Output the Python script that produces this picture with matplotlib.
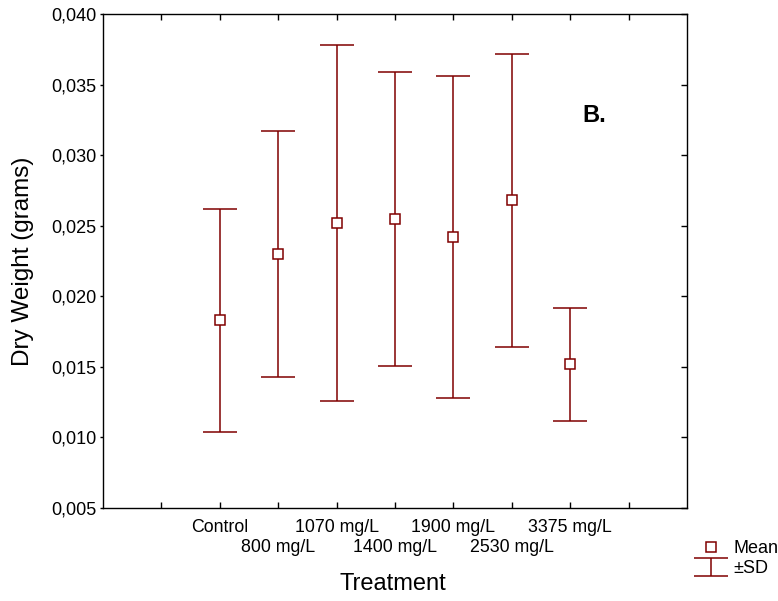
import matplotlib
matplotlib.use("Agg")
import matplotlib.pyplot as plt
from matplotlib.ticker import FixedLocator, FuncFormatter

plt.rcParams['font.family'] = ['Liberation Sans', 'DejaVu Sans']

treatments = ["Control", "800 mg/L", "1070 mg/L", "1400 mg/L",
              "1900 mg/L", "2530 mg/L", "3375 mg/L"]
means = [0.0183, 0.0230, 0.0252, 0.0255, 0.0242, 0.0268, 0.0152]
sds = [0.0079, 0.0087, 0.0126, 0.0104, 0.0114, 0.0104, 0.0040]

color = '#800000'

fig = plt.figure(figsize=(7.78, 6.01), dpi=100)
ax = fig.add_axes([103 / 778, 1 - 508 / 601, (687 - 103) / 778, (508 - 14.3) / 601])

xpos = list(range(len(treatments)))
sd_bars = ax.errorbar(xpos, means, yerr=sds, fmt='none', ecolor=color,
                      elinewidth=1.1, capsize=12, capthick=1.1, label='±SD', zorder=2)
mean_pts, = ax.plot(xpos, means, 's', ms=6.5, mfc='white', mec=color, mew=1.1,
                    ls='none', label='Mean', zorder=3)

ax.set_xlim(-2, len(treatments) + 1)
ax.set_ylim(0.005, 0.040)

ax.xaxis.set_major_locator(FixedLocator(list(range(-1, len(treatments) + 1))))
ax.set_xticklabels([])
ax.yaxis.set_major_locator(FixedLocator([0.005 * i for i in range(1, 9)]))
ax.yaxis.set_major_formatter(FuncFormatter(lambda v, p: f"{v:.3f}".replace('.', ',')))

ax.tick_params(axis='x', which='both', direction='in', length=4, width=1,
               top=True, bottom=True, labelbottom=False)
ax.tick_params(axis='y', which='both', direction='out', length=2.5, width=1,
               labelsize=13, left=True, pad=2.5)
ax.tick_params(axis='y', which='both', right=True)
for t in ax.yaxis.get_ticklines()[1::2]:
    t.set_marker(0)  # right-hand ticks point inward
    t.set_markersize(4)
for spine in ax.spines.values():
    spine.set_linewidth(1.0)
    spine.set_color('black')

# staggered treatment labels on two rows
for i, name in enumerate(treatments):
    row = i % 2
    ax.annotate(name, xy=(i, 0), xycoords=('data', 'axes fraction'),
                xytext=(0, -19 - row * 21), textcoords='offset pixels',
                ha='center', va='center', fontsize=12.8)

ax.set_ylabel("Dry Weight (grams)", fontsize=17.5)
ax.yaxis.set_label_coords(-(103 - 34) / 584, 0.5)
fig.text(393 / 778, 1 - 584 / 601, "Treatment", ha='center', va='center', fontsize=17)

fig.text(594 / 778, 1 - 115 / 601, "B.", ha='center', va='center',
         fontsize=17, fontweight='bold')

fig.legend([mean_pts, sd_bars], ["Mean", "±SD"], loc='upper left',
           bbox_to_anchor=(687 / 778, 1 - 529 / 601), frameon=False,
           fontsize=13, handlelength=1.5, handletextpad=0.45,
           labelspacing=0.2, borderpad=0.1)

fig.savefig("out.png", dpi=100)
